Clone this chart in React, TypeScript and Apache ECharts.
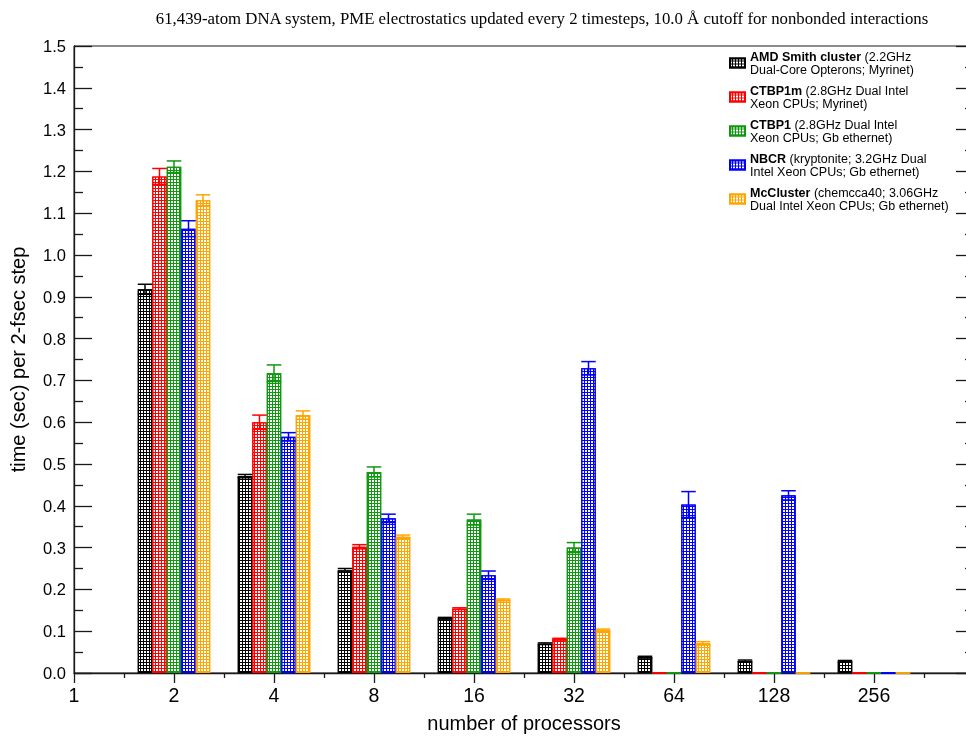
import React, { useEffect, useRef } from "react";
import * as echarts from "echarts";

const categories = ["1", "2", "4", "8", "16", "32", "64", "128", "256"];
const groupPositions = [1, 2, 3, 4, 5, 6, 7, 8];

const seriesNames = ["AMD Smith cluster", "CTBP1m", "CTBP1", "NBCR", "McCluster"];
const seriesDetails = [
  ["(2.2GHz", "Dual-Core Opterons; Myrinet)"],
  ["(2.8GHz Dual Intel", "Xeon CPUs; Myrinet)"],
  ["(2.8GHz Dual Intel", "Xeon CPUs; Gb ethernet)"],
  ["(kryptonite; 3.2GHz Dual", "Intel Xeon CPUs; Gb ethernet)"],
  ["(chemcca40; 3.06GHz", "Dual Intel Xeon CPUs; Gb ethernet)"],
];
const colors = ["#000000", "#ff0000", "#109910", "#0000ff", "#ffa500"];

const amd = [0.918, 0.471, 0.246, 0.131, 0.07, 0.038, 0.029, 0.028];
const amdErr = [0.012, 0.004, 0.004, 0.002, 0.002, 0.002, 0.002, 0.002];
const ctbp1m = [1.188, 0.6, 0.302, 0.154, 0.081, 0, 0, 0];
const ctbp1mErr = [0.019, 0.017, 0.005, 0.002, 0.002, 0, 0, 0];
const ctbp1 = [1.211, 0.717, 0.481, 0.367, 0.3, 0, 0, 0];
const ctbp1Err = [0.014, 0.02, 0.012, 0.013, 0.012, 0, 0, 0];
const nbcr = [1.063, 0.565, 0.37, 0.234, 0.729, 0.403, 0.425, 0];
const nbcrErr = [0.019, 0.01, 0.01, 0.01, 0.016, 0.031, 0.011, 0];
const mcc = [1.131, 0.617, 0.326, 0.175, 0.102, 0.071, 0, 0];
const mccErr = [0.013, 0.01, 0.004, 0.002, 0.003, 0.004, 0, 0];

const values = [amd, ctbp1m, ctbp1, nbcr, mcc];
const errors = [amdErr, ctbp1mErr, ctbp1Err, nbcrErr, mccErr];

const title =
  "61,439-atom DNA system, PME electrostatics updated every 2 timesteps, 10.0 Å cutoff for nonbonded interactions";

const BAR_W = 14.5;

export default function App() {
  const ref = useRef<HTMLDivElement>(null);
  useEffect(() => {
    if (!ref.current) return;
    const chart = echarts.init(ref.current, undefined, { renderer: "svg" });
    const axisColor = "#1a1a1a";
    const font = "Liberation Sans";

    const barSeries = seriesNames.map((name, s) => ({
      type: "bar",
      name,
      xAxisIndex: 0,
      yAxisIndex: 0,
      barWidth: BAR_W,
      barGap: "0%",
      data: values[s].map((v, i) => [groupPositions[i], v]),
      itemStyle: {
        color: colors[s],
        borderColor: colors[s],
        borderWidth: 1.3,
        decal: {
          symbol: "rect",
          symbolSize: 1,
          dashArrayX: [2, 1],
          dashArrayY: [2, 1],
          color: "#ffffff",
          rotation: 0,
        },
      },
      emphasis: { disabled: true },
      z: 2,
    }));

    const errData: number[][] = [];
    values.forEach((arr, s) =>
      arr.forEach((v, i) => {
        if (errors[s][i] > 0) errData.push([groupPositions[i], v, s, errors[s][i]]);
      })
    );

    const errSeries = {
      type: "custom",
      xAxisIndex: 0,
      yAxisIndex: 0,
      data: errData,
      encode: { x: 0, y: 1 },
      silent: true,
      z: 5,
      renderItem: (params: any, api: any) => {
        const x = api.value(0);
        const v = api.value(1);
        const s = api.value(2);
        const e = api.value(3);
        const p = api.coord([x, v]);
        const cx = p[0] + (s - 2) * BAR_W;
        const yt = api.coord([x, v + e])[1];
        const yb = api.coord([x, v - e])[1];
        const h = BAR_W / 2;
        const st = { stroke: colors[s], lineWidth: 1.5 };
        return {
          type: "group",
          children: [
            { type: "line", shape: { x1: cx, y1: yt, x2: cx, y2: yb }, style: st },
            { type: "line", shape: { x1: cx - h, y1: yt, x2: cx + h, y2: yt }, style: st },
            { type: "line", shape: { x1: cx - h, y1: yb, x2: cx + h, y2: yb }, style: st },
          ],
        };
      },
    };

    chart.setOption({
      animation: false,
      grid: {
        left: 74,
        top: 46,
        width: 900,
        height: 629,
        show: true,
        borderColor: axisColor,
        borderWidth: 1,
        backgroundColor: "transparent",
      },
      graphic: [
        {
          type: "text",
          x: 542,
          y: 18,
          style: {
            text: title,
            font: '16.8px "Liberation Serif"',
            fill: "#000",
            align: "center",
            verticalAlign: "middle",
          },
        },
      ],
      legend: {
        data: seriesNames,
        orient: "vertical",
        left: 729,
        top: 50,
        padding: 0,
        itemWidth: 15,
        itemHeight: 9,
        itemGap: 8,
        icon: "rect",
        align: "left",
        selectedMode: false,
        formatter: (name: string) => {
          const idx = seriesNames.indexOf(name);
          const d = seriesDetails[idx];
          return `{b|${name}} {n|${d[0]}}\n{n|${d[1]}}`;
        },
        textStyle: {
          fontFamily: font,
          fontSize: 12.5,
          color: "#000",
          lineHeight: 13,
          rich: {
            b: { fontFamily: font, fontSize: 12.5, fontWeight: "bold", color: "#000", lineHeight: 13 },
            n: { fontFamily: font, fontSize: 12.5, color: "#000", lineHeight: 13 },
          },
        },
      },
      xAxis: [
        {
          type: "value",
          min: 0,
          max: 9,
          interval: 1,
          name: "number of processors",
          nameLocation: "middle",
          nameGap: 40,
          nameTextStyle: { fontFamily: font, fontSize: 20, color: "#000" },
          axisLine: { show: true, onZero: false, lineStyle: { color: axisColor, width: 1.3 } },
          axisTick: { show: true, inside: false, length: 10, lineStyle: { color: axisColor, width: 1.3 } },
          minorTick: { show: true, splitNumber: 2, length: 5, lineStyle: { color: axisColor, width: 1.3 } },
          splitLine: { show: false },
          minorSplitLine: { show: false },
          axisLabel: {
            formatter: (v: number) => categories[Math.round(v)] ?? "",
            fontFamily: font,
            fontSize: 19.5,
            color: "#000",
            margin: 12,
          },
        },
      ],
      yAxis: [
        {
          type: "value",
          position: "left",
          min: 0,
          max: 1.5,
          interval: 0.1,
          name: "time (sec) per 2-fsec step",
          nameLocation: "middle",
          nameGap: 46,
          nameTextStyle: { fontFamily: font, fontSize: 20, color: "#000" },
          axisLine: { show: true, lineStyle: { color: axisColor, width: 1.3 } },
          axisTick: { show: true, inside: true, length: 18, lineStyle: { color: axisColor, width: 1.3 } },
          minorTick: { show: true, splitNumber: 2, length: 9, lineStyle: { color: axisColor, width: 1.3 } },
          splitLine: { show: false },
          axisLabel: {
            formatter: (v: number) => v.toFixed(1),
            fontFamily: font,
            fontSize: 16.5,
            color: "#000",
            margin: 8,
          },
        },
        {
          type: "value",
          position: "right",
          min: 0,
          max: 1.5,
          interval: 0.1,
          axisLine: { show: true, lineStyle: { color: axisColor, width: 1.3 } },
          axisTick: { show: true, inside: true, length: 18, lineStyle: { color: axisColor, width: 1.3 } },
          minorTick: { show: true, splitNumber: 2, length: 9, lineStyle: { color: axisColor, width: 1.3 } },
          splitLine: { show: false },
          axisLabel: { show: false },
        },
      ],
      series: [...barSeries, errSeries],
    });
    return () => chart.dispose();
  }, []);

  return (
    <div
      ref={ref}
      style={{ position: "fixed", left: 0, top: 0, width: 1000, height: 738 }}
    />
  );
}
